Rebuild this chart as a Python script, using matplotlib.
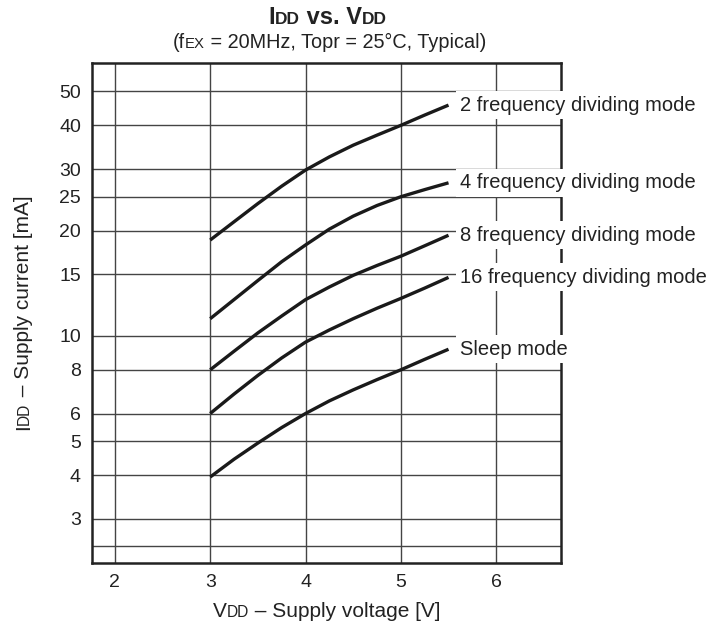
import matplotlib
matplotlib.use("Agg")
import matplotlib.pyplot as plt
from matplotlib.font_manager import FontProperties
from matplotlib.transforms import IdentityTransform
from matplotlib.ticker import FixedLocator, FixedFormatter, NullLocator

FONT = "Liberation Sans"
plt.rcParams["font.family"] = [FONT, "DejaVu Sans"]

# supply voltage [V]
vdd = [3.0, 3.25, 3.5, 3.75, 4.0, 4.25, 4.5, 4.75, 5.0, 5.25, 5.5]
# supply current [mA]
idd_div2 = [18.8, 21.2, 23.9, 26.8, 29.8, 32.5, 35.1, 37.5, 40.0, 42.8, 45.7]
idd_div4 = [11.2, 12.7, 14.4, 16.3, 18.2, 20.2, 22.0, 23.6, 25.0, 26.2, 27.4]
idd_div8 = [8.0, 9.04, 10.2, 11.4, 12.7, 13.8, 14.9, 15.9, 16.9, 18.1, 19.4]
idd_div16 = [6.0, 6.82, 7.71, 8.65, 9.6, 10.4, 11.2, 12.0, 12.8, 13.7, 14.7]
idd_sleep = [3.95, 4.44, 4.94, 5.47, 6.0, 6.52, 7.01, 7.5, 8.0, 8.57, 9.16]
series = [idd_div2, idd_div4, idd_div8, idd_div16, idd_sleep]
names = ["2 frequency dividing mode", "4 frequency dividing mode",
         "8 frequency dividing mode", "16 frequency dividing mode", "Sleep mode"]

x_grid = [2, 3, 4, 5, 6]
y_grid = [2.5, 3, 4, 5, 6, 8, 10, 15, 20, 25, 30, 40, 50]
y_labels = ["", "3", "4", "5", "6", "8", "10", "15", "20", "25", "30", "40", "50"]

W, H = 725, 628
fig = plt.figure(figsize=(W / 100, H / 100), dpi=100)
ax = fig.add_axes([92 / W, 1 - 562.5 / H, (561 - 92) / W, (562.5 - 63) / H])
ax.set_yscale("log")
ax.set_xlim(1.76, 6.68)
ax.set_ylim(2.25, 60.3)

ax.yaxis.set_major_locator(FixedLocator(y_grid))
ax.yaxis.set_major_formatter(FixedFormatter(y_labels))
ax.yaxis.set_minor_locator(NullLocator())
ax.set_xticks(x_grid)
ax.set_xticklabels([str(v) for v in x_grid])
ax.tick_params(length=0, labelsize=14, pad=8, colors="#222222")
ax.grid(True, color="#444444", linewidth=1.0)
ax.set_axisbelow(True)
for sp in ax.spines.values():
    sp.set_linewidth(1.8)
    sp.set_color("#222222")

for vals, name in zip(series, names):
    ax.plot(vdd, vals, color="#1a1a1a", linewidth=2.4, solid_capstyle="butt")
    ax.text(5.62, vals[-1], name, fontsize=14.5, va="center", ha="left",
            color="#222222", clip_on=False, zorder=5,
            bbox=dict(boxstyle="square,pad=0.22", facecolor="white", edgecolor="none"))


def rich_text(x, y, parts, rotation=0):
    # parts: (text, size, weight); x, y are pixel centre / baseline
    renderer = fig.canvas.get_renderer()
    widths = []
    for s, size, weight in parts:
        fp = FontProperties(family=FONT, size=size, weight=weight)
        w1 = renderer.get_text_width_height_descent("|" + s + "|", fp, ismath=False)[0]
        w0 = renderer.get_text_width_height_descent("||", fp, ismath=False)[0]
        widths.append(w1 - w0)
    pos = -sum(widths) / 2
    for (s, size, weight), w in zip(parts, widths):
        if rotation == 0:
            px, py = x + pos, y
        else:
            px, py = x, y + pos
        fig.text(px, py, s, fontsize=size, fontweight=weight, family=FONT,
                 rotation=rotation, rotation_mode="anchor", ha="left",
                 va="baseline", transform=IdentityTransform(), color="#222222")
        pos += w


fig.canvas.draw()
rich_text(328, H - 24, [("I", 17, "bold"), ("DD", 12.4, "bold"),
                        (" vs. V", 17, "bold"), ("DD", 12.4, "bold")])
rich_text(329.5, H - 48.3, [("(f", 14.3, "normal"), ("EX", 10.7, "normal"),
                            (" = 20MHz, Topr = 25°C, Typical)", 14.3, "normal")])
rich_text(327, H - 617, [("V", 15, "normal"), ("DD", 11.2, "normal"),
                         (" – Supply voltage [V]", 15, "normal")])
rich_text(29, H - 313, [("I", 15, "normal"), ("DD", 11.2, "normal"),
                        (" – Supply current [mA]", 15, "normal")], rotation=90)

fig.savefig("out.png", dpi=100)
